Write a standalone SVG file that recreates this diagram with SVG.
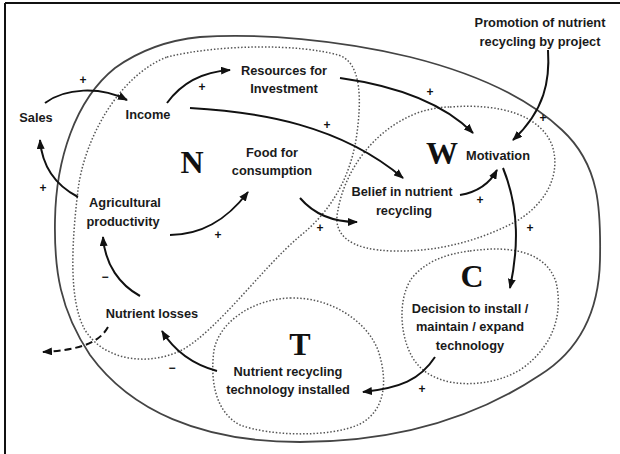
<svg xmlns="http://www.w3.org/2000/svg" width="620" height="454" viewBox="0 0 620 454">
  <defs>
    <style>
      .lbl { font-family: "Liberation Sans", Arial, sans-serif; font-weight: bold; font-size: 12.8px; fill: #1a1a1a; text-anchor: middle; }
      .big { font-family: "Liberation Serif", "Times New Roman", serif; font-weight: bold; font-size: 32px; fill: #111; text-anchor: middle; }
      .sign { font-family: "Liberation Sans", Arial, sans-serif; font-weight: bold; font-size: 12px; fill: #111; text-anchor: middle; }
      .frame { stroke: #111; stroke-width: 2; fill: none; }
      .system { stroke: #444; stroke-width: 1.8; fill: none; }
      .region { stroke: #555; stroke-width: 1.5; stroke-dasharray: 1.5 1.9; fill: none; }
      .link { stroke: #111; stroke-width: 2; fill: none; marker-end: url(#arr); }
      .leak { stroke-dasharray: 7 4; }
    </style>
    <marker id="arr" viewBox="0 0 10 8" refX="9" refY="4" markerWidth="10" markerHeight="8" markerUnits="userSpaceOnUse" orient="auto">
      <path d="M0,0 L10,4 L0,8 z" fill="#111"/>
    </marker>
  </defs>

  <rect width="620" height="454" fill="#fff"/>

  <!-- frame: top and left rules -->
  <path class="frame" d="M5,3 H620 M5,3 V454"/>

  <!-- system boundary -->
  <g id="system-boundary">
    <path class="system" d="M200,37 C260,33 340,40 410,57 C470,72 525,95 562,130 C600,165 601,210 600,260 C599,310 580,350 540,375 C480,415 400,442 300,442 C200,442 130,410 90,355 C60,310 54,270 55,220 C56,160 75,100 115,68 C140,50 170,40 200,37 Z"/>
  </g>

  <!-- sub-system regions -->
  <g id="region-N">
    <path class="region" d="M167,57 C220,44 300,44 338,55 C362,62 362,100 356,140 C349,180 330,212 300,236 C262,268 218,330 182,350 C150,366 105,362 85,330 C68,300 72,240 78,190 C84,140 118,76 167,57 Z"/>
    <text class="big" x="192" y="173">N</text>
  </g>
  <g id="region-W">
    <path class="region" d="M450,107 C500,103 540,115 552,145 C562,175 545,205 515,222 C480,240 440,252 393,251 C350,250 332,235 338,210 C344,175 370,130 420,112 C430,109 440,107 450,107 Z"/>
    <text class="big" x="442" y="164">W</text>
  </g>
  <g id="region-C">
    <path class="region" d="M470,251 C512,245 546,252 556,282 C563,312 555,346 520,370 C490,388 440,390 418,365 C400,345 396,300 412,278 C425,262 445,254 470,251 Z"/>
    <text class="big" x="472" y="287">C</text>
  </g>
  <g id="region-T">
    <path class="region" d="M290,298 C330,297 366,320 378,350 C388,380 386,410 360,424 C330,438 270,436 240,425 C215,412 210,380 214,350 C220,320 255,299 290,298 Z"/>
    <text class="big" x="300" y="355">T</text>
  </g>

  <!-- variables -->
  <g id="sales"><text class="lbl" x="36" y="122">Sales</text></g>
  <g id="income"><text class="lbl" x="148" y="119">Income</text></g>
  <g id="resources"><text class="lbl" x="284" y="75">Resources for</text><text class="lbl" x="284" y="93">Investment</text></g>
  <g id="food"><text class="lbl" x="272" y="157">Food for</text><text class="lbl" x="272" y="175">consumption</text></g>
  <g id="agri"><text class="lbl" x="125" y="207">Agricultural</text><text class="lbl" x="123" y="226">productivity</text></g>
  <g id="losses"><text class="lbl" x="152" y="318">Nutrient losses</text></g>
  <g id="promotion"><text class="lbl" x="540" y="27">Promotion of nutrient</text><text class="lbl" x="540" y="46">recycling by project</text></g>
  <g id="motivation"><text class="lbl" x="498" y="160">Motivation</text></g>
  <g id="belief"><text class="lbl" x="402" y="196">Belief in nutrient</text><text class="lbl" x="404" y="215">recycling</text></g>
  <g id="decision"><text class="lbl" x="470" y="313">Decision to install /</text><text class="lbl" x="470" y="331">maintain / expand</text><text class="lbl" x="470" y="350">technology</text></g>
  <g id="technology"><text class="lbl" x="288" y="376">Nutrient recycling</text><text class="lbl" x="288" y="394">technology installed</text></g>

  <!-- causal links -->
  <g id="connectors">
    <path class="link" d="M45,103 C65,88 100,86 127,100"/>
    <path class="link" d="M167,103 C180,85 200,72 230,70"/>
    <path class="link" d="M190,108 C260,112 340,125 403,178"/>
    <path class="link" d="M340,78 C390,85 440,100 473,133"/>
    <path class="link" d="M548,50 C550,80 545,110 513,140"/>
    <path class="link" d="M460,195 C478,192 490,183 497,170"/>
    <path class="link" d="M503,168 C520,210 518,250 510,288"/>
    <path class="link" d="M435,357 C420,380 400,388 363,392"/>
    <path class="link" d="M217,371 C195,365 175,352 162,331"/>
    <path class="link" d="M140,296 C120,285 105,265 103,237"/>
    <path class="link" d="M78,197 C55,185 42,165 40,140"/>
    <path class="link" d="M170,235 C200,235 225,222 248,192"/>
    <path class="link" d="M300,198 C312,212 330,222 357,222"/>
    <path class="link leak" d="M108,327 C98,345 75,350 43,352"/>

    <!-- polarity signs -->
    <text class="sign" x="83" y="84">+</text>
    <text class="sign" x="202" y="91">+</text>
    <text class="sign" x="327" y="129">+</text>
    <text class="sign" x="430" y="96">+</text>
    <text class="sign" x="543" y="122">+</text>
    <text class="sign" x="480" y="204">+</text>
    <text class="sign" x="530" y="232">+</text>
    <text class="sign" x="422" y="393">+</text>
    <text class="sign" x="43" y="192">+</text>
    <text class="sign" x="218" y="239">+</text>
    <text class="sign" x="320" y="232">+</text>
    <text class="sign" x="172" y="372">−</text>
    <text class="sign" x="105" y="281">−</text>
  </g>
</svg>
